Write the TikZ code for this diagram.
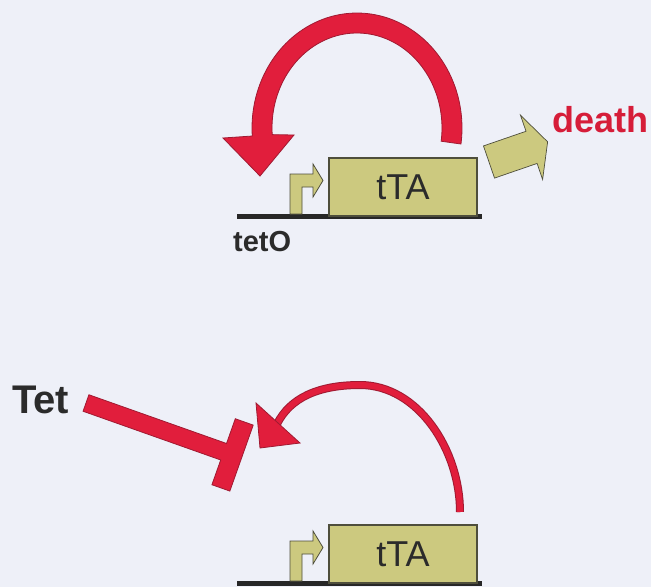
\documentclass[tikz,border=0pt]{standalone}
\usepackage{fontspec}
\setmainfont{Liberation Sans}
\definecolor{paper}{HTML}{EEF0F8}
\definecolor{loopred}{HTML}{E11E3C}
\definecolor{loopedge}{HTML}{A01A32}
\definecolor{khaki}{HTML}{CCC97F}
\definecolor{khakiedge}{HTML}{4E4E3C}
\definecolor{ink}{HTML}{2B2B2B}
\tikzset{
  genebox/.style={draw=khakiedge, line width=1.6pt, fill=khaki, minimum width=148pt,
    minimum height=58pt, inner sep=0pt, text=ink, font=\fontsize{36}{36}\selectfont},
  dnaline/.style={draw=ink!90!black, line width=4.5pt},
  promoter/.style={fill=khaki, draw=khakiedge, line width=0.8pt, line join=miter},
  redfill/.style={fill=loopred, draw=loopedge, line width=0.8pt},
  boldlabel/.style={inner sep=0pt, text=ink, font=\bfseries\fontsize{29}{29}\selectfont}
}
\begin{document}
\begin{tikzpicture}[x=1pt, y=-1pt]
  \fill[paper] (0,0) rectangle (651,587);
  \useasboundingbox (0,0) rectangle (651,587);

  % ---------- upper construct: tTA drives its own expression ----------
  \draw[dnaline] (237,216.5) -- (482,216.5);
  \node[genebox] (tta1) at (403,187) {tTA};
  \node[boldlabel, anchor=base west] (teto) at (233,251) {tetO};
  \draw[promoter] (290,214) -- (290,174) -- (313,174) -- (313,164) -- (323,180.5)
        -- (313,197) -- (313,187) -- (302,187) -- (302,214) -- cycle;

  % thick positive-feedback loop
  \draw[redfill]
    plot[domain=-8:184, samples=80] ({357+105*cos(\x)}, {128-115*sin(\x)})
    -- (223,138) -- (260,176) -- (294,135)
    -- plot[domain=184:-8, samples=80] ({357+85*cos(\x)}, {128-95*sin(\x)})
    -- cycle;

  % block arrow towards death
  \begin{scope}[shift={(489,162)}, rotate=19]
    \draw[promoter, line width=0.7pt] (0,-17) -- (45,-17) -- (45,-34) -- (62,0)
          -- (45,34) -- (45,17) -- (0,17) -- cycle;
    \coordinate (deathtip) at (62,0);
  \end{scope}
  \node[anchor=base west, inner sep=0pt, text=loopred!95!black,
        font=\bfseries\fontsize{36}{36}\selectfont] (death) at (552,132) {death};

  % ---------- lower construct: Tet blocks the loop ----------
  \draw[dnaline] (237,583.5) -- (482,583.5);
  \node[genebox] (tta2) at (403,554) {tTA};
  \draw[promoter] (290,581) -- (290,541) -- (313,541) -- (313,531) -- (323,547.5)
        -- (313,564) -- (313,554) -- (302,554) -- (302,581) -- cycle;

  % thin feedback arc, cut short by the inhibitor
  \coordinate (arcstart) at (460,512);
  \coordinate (arcend) at (277,424);
  \draw[loopedge, line width=8pt] (arcstart) .. controls (460,450) and (418,385) .. (360,385)
        .. controls (318,385) and (290,398) .. (arcend);
  \draw[loopred, line width=6pt] (arcstart) .. controls (460,450) and (418,385) .. (360,385)
        .. controls (318,385) and (290,398) .. (arcend);
  \draw[redfill] (256,403) -- (260,448) -- (300,443) -- cycle;

  % Tet inhibition bar
  \node[boldlabel, anchor=base west, font=\bfseries\fontsize{40}{40}\selectfont] (tet) at (12,413) {Tet};
  \begin{scope}[shift={(86,403)}, rotate=-19.5]
    \draw[redfill] (0,-8.75) -- (146,-8.75) -- (146,-35) -- (165,-35) -- (165,35)
          -- (146,35) -- (146,8.75) -- (0,8.75) -- cycle;
  \end{scope}
\end{tikzpicture}
\end{document}
